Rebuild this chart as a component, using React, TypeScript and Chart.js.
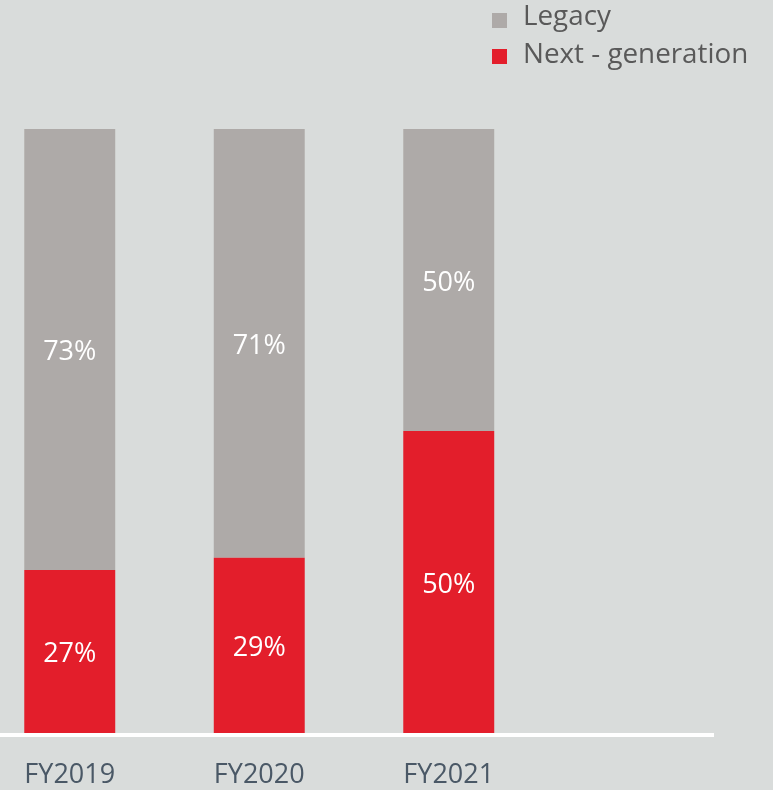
import React, { useEffect, useRef } from "react";
import { Chart, registerables } from "chart.js";

Chart.register(...registerables);

const categories = ["FY2019", "FY2020", "FY2021"];
const nextGen = [27, 29, 50];
const legacy = [73, 71, 50];
const seriesNames = ["Next - generation", "Legacy"];

const BG = "#d9dcdb";
const GRAY = "#aeaaa8";
const RED = "#e31e2b";
const FONT = "'Open Sans', sans-serif";

const valueLabels = {
  id: "valueLabels",
  afterDatasetsDraw(chart: any) {
    const ctx = chart.ctx;
    ctx.save();
    ctx.fillStyle = "#ffffff";
    ctx.font = `27px ${FONT}`;
    ctx.textAlign = "center";
    ctx.textBaseline = "middle";
    chart.data.datasets.forEach((ds: any, di: number) => {
      const meta = chart.getDatasetMeta(di);
      meta.data.forEach((el: any, i: number) => {
        const v = ds.data[i];
        const cy = (el.y + el.base) / 2 + 3;
        ctx.fillText(`${v}%`, el.x, cy);
      });
    });
    ctx.restore();
  },
};

const axisLine = {
  id: "axisLine",
  afterDraw(chart: any) {
    const ctx = chart.ctx;
    const y = chart.scales.y.getPixelForValue(0);
    ctx.save();
    ctx.fillStyle = "#ffffff";
    ctx.fillRect(0, y, chart.width, 4);
    ctx.restore();
  },
};

export default function App() {
  const ref = useRef<HTMLCanvasElement>(null);
  useEffect(() => {
    if (!ref.current) return;
    const chart = new Chart(ref.current, {
      type: "bar",
      data: {
        labels: categories,
        datasets: [
          { label: seriesNames[0], data: nextGen, backgroundColor: RED, barPercentage: 0.48, categoryPercentage: 1 },
          { label: seriesNames[1], data: legacy, backgroundColor: GRAY, barPercentage: 0.48, categoryPercentage: 1 },
        ],
      },
      options: {
        animation: false,
        responsive: false,
        maintainAspectRatio: false,
        layout: { padding: { top: 129, right: 170.5, left: 0, bottom: 0.6 } },
        plugins: { legend: { display: false }, tooltip: { enabled: false } },
        scales: {
          x: {
            stacked: true,
            grid: { display: false, drawTicks: false },
            border: { display: false },
            ticks: { color: "#4a5866", font: { family: FONT, size: 27 }, padding: 26, maxRotation: 0 },
          },
          y: { stacked: true, display: false, min: 0, max: 100 },
        },
      },
      plugins: [valueLabels, axisLine],
    });
    return () => chart.destroy();
  }, []);

  const legendText: React.CSSProperties = {
    position: "absolute",
    left: 523,
    fontFamily: FONT,
    fontSize: 27.8,
    lineHeight: "27px",
    color: "#595959",
    whiteSpace: "nowrap",
  };
  const sq: React.CSSProperties = { position: "absolute", left: 492, width: 15, height: 15 };

  return (
    <div style={{ position: "fixed", left: 0, top: 0, width: 773, height: 790, background: BG, overflow: "hidden" }}>
      <div style={{ position: "absolute", left: -25, top: 0, width: 739, height: 818 }}>
        <canvas ref={ref} width={739} height={818} style={{ display: "block", width: 739, height: 818 }} />
      </div>
      <div style={{ ...sq, top: 13, background: GRAY }} />
      <div style={{ ...legendText, top: 1 }}>{seriesNames[1]}</div>
      <div style={{ ...sq, top: 49, background: RED }} />
      <div style={{ ...legendText, top: 39 }}>{seriesNames[0]}</div>
    </div>
  );
}
